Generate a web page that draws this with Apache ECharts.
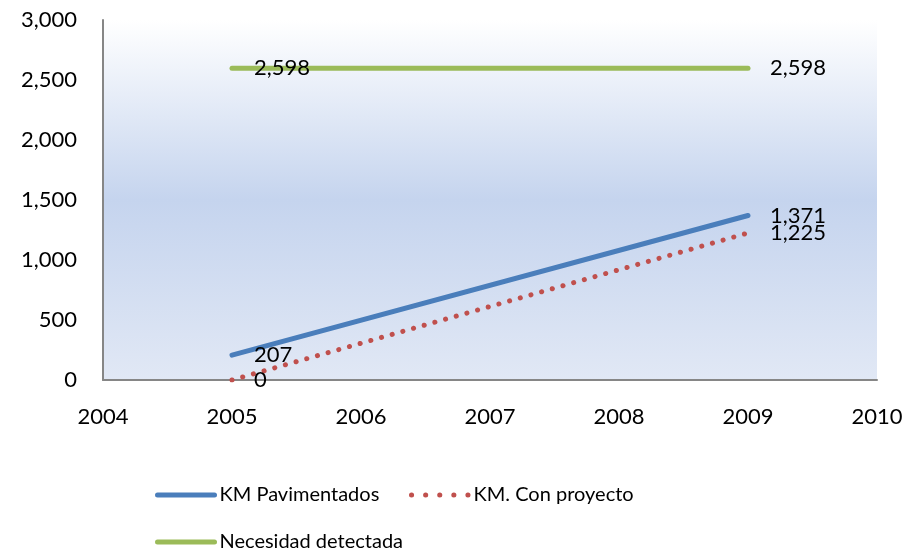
<!DOCTYPE html>
<html>
<head>
<meta charset="utf-8">
<script src="https://cdn.jsdelivr.net/npm/echarts@6/dist/echarts.min.js"></script>
<style>html,body{margin:0;padding:0;background:#fff}#c{width:908px;height:552px}</style>
</head>
<body>
<div id="c"></div>
<script>
const years = [2005, 2009];
const pavimentados = [207, 1371];
const conProyecto = [0, 1225];
const necesidad = [2598, 2598];
const seriesNames = ['KM Pavimentados', 'KM. Con proyecto', 'Necesidad detectada'];

const FONT = 'Lato, "Open Sans", sans-serif';
const fmt = v => String(v).replace(/\B(?=(\d{3})+(?!\d))/g, ',');
const pts = arr => years.map((y, i) => [y, arr[i]]);

const labelCfg = {
  show: true, position: 'right', distance: 22,
  color: '#000', fontFamily: FONT, fontSize: 22,
  formatter: p => fmt(p.value[1])
};

const legendBase = {
  itemWidth: 57, itemHeight: 14,
  itemStyle: {opacity: 0},
  textStyle: {fontFamily: FONT, fontSize: 20, color: '#000'}
};

const chart = echarts.init(document.getElementById('c'));
chart.setOption({
  animation: false,
  grid: {
    left: 103, right: 31, top: 20, bottom: 172, show: true, borderWidth: 0,
    backgroundColor: new echarts.graphic.LinearGradient(0, 0, 0, 1, [
      {offset: 0, color: '#ffffff'},
      {offset: 0.5, color: '#c5d4ee'},
      {offset: 1, color: '#e1e8f5'}
    ])
  },
  legend: [
    Object.assign({}, legendBase, {data: [seriesNames[0]], left: 150, top: 480, lineStyle: {width: 5}}),
    Object.assign({}, legendBase, {data: [seriesNames[1]], left: 404, top: 480,
      lineStyle: {width: 5, type: [0.1, 14], cap: 'round'}}),
    Object.assign({}, legendBase, {data: [seriesNames[2]], left: 150, top: 527, lineStyle: {width: 5}})
  ],
  xAxis: {
    type: 'value', min: 2004, max: 2010, interval: 1,
    axisLine: {show: true, lineStyle: {color: '#868686', width: 2}},
    axisTick: {show: false}, splitLine: {show: false},
    axisLabel: {formatter: v => String(v), color: '#000', fontFamily: FONT, fontSize: 22, margin: 26}
  },
  yAxis: {
    type: 'value', min: 0, max: 3000, interval: 500,
    axisLine: {show: true, lineStyle: {color: '#868686', width: 2}},
    axisTick: {show: false}, splitLine: {show: false},
    axisLabel: {formatter: v => fmt(v), color: '#000', fontFamily: FONT, fontSize: 22, margin: 26}
  },
  series: [
    {name: seriesNames[0], type: 'line', data: pts(pavimentados), symbol: 'circle', symbolSize: 0.01,
     showSymbol: true, color: '#4a7ebb',
     lineStyle: {width: 5, color: '#4a7ebb', cap: 'round'}, label: labelCfg, z: 3},
    {name: seriesNames[1], type: 'line', data: pts(conProyecto), symbol: 'circle', symbolSize: 0.01,
     showSymbol: true, color: '#c0504d',
     lineStyle: {width: 5, color: '#c0504d', type: [0.1, 11], cap: 'round'}, label: labelCfg, z: 2},
    {name: seriesNames[2], type: 'line', data: pts(necesidad), symbol: 'circle', symbolSize: 0.01,
     showSymbol: true, color: '#9bbb59',
     lineStyle: {width: 5, color: '#9bbb59', cap: 'round'}, label: labelCfg, z: 2}
  ]
});
</script>
</body>
</html>
